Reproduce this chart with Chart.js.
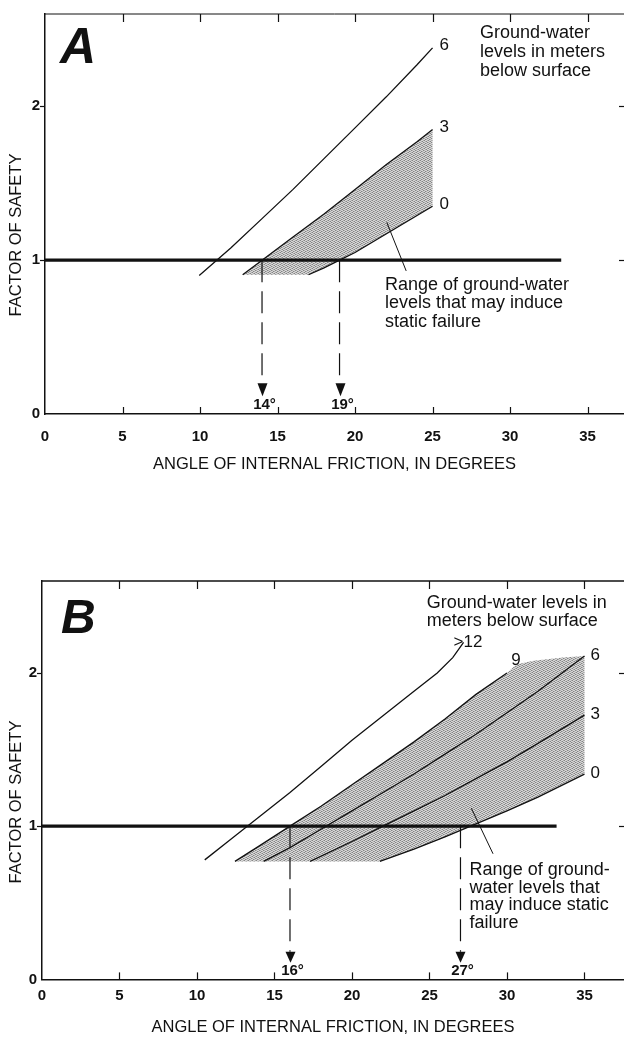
<!DOCTYPE html>
<html>
<head>
<meta charset="utf-8">
<script src="https://cdn.jsdelivr.net/npm/chart.js@4.4.1/dist/chart.umd.min.js"></script>
<style>
  html, body { margin: 0; padding: 0; background: #fff; }
  body { width: 624px; height: 1038px; position: relative; overflow: hidden; }
  canvas { position: absolute; left: 0; }
  #panelA { top: 0; }
  #panelB { top: 500px; }
</style>
</head>
<body>
<canvas id="panelA" width="624" height="480"></canvas>
<canvas id="panelB" width="624" height="538"></canvas>
<script>
// ---- axis ticks shared by both panels ----
const angleTicks = [0, 5, 10, 15, 20, 25, 30, 35];
const safetyTicks = [0, 1, 2];
const safetyLimit = 1;

// ---- Panel A: factor of safety vs. angle of internal friction ----
// ground-water level 6 m below surface
const aDepth6X = [9.95, 12, 14, 16, 18, 20, 22, 24, 25];
const aDepth6Y = [0.90, 1.08, 1.27, 1.46, 1.66, 1.86, 2.06, 2.27, 2.38];
// 3 m below surface
const aDepth3X = [12.75, 14, 16, 18, 20, 22, 24, 25];
const aDepth3Y = [0.905, 1.0, 1.15, 1.30, 1.46, 1.62, 1.77, 1.85];
// water at surface (0 m)
const aDepth0X = [17.0, 18, 19, 20, 22, 24, 25];
const aDepth0Y = [0.905, 0.95, 1.0, 1.05, 1.17, 1.29, 1.35];
const aLimitX = [0, 33.3];
const aCriticalAngles = [14, 19];
const aArrowEnd = 0.2;
const aLeaderX = [23.3, 22.05];
const aLeaderY = [0.93, 1.245];

// ---- Panel B ----
const bDepth12X = [10.5, 12, 14, 16, 18, 20, 22, 24, 25.5, 26.5, 27.2];
const bDepth12Y = [0.78, 0.90, 1.06, 1.22, 1.39, 1.56, 1.72, 1.88, 2.00, 2.10, 2.20];
const bDepth9X = [12.45, 14, 16, 18, 20, 22, 24, 26, 28, 30];
const bDepth9Y = [0.77, 0.87, 1.0, 1.13, 1.27, 1.41, 1.55, 1.70, 1.86, 2.0];
const bDepth6X = [14.3, 16, 18, 20, 22, 24, 26, 28, 30, 32, 35];
const bDepth6Y = [0.77, 0.86, 0.98, 1.10, 1.22, 1.34, 1.47, 1.60, 1.74, 1.88, 2.11];
const bDepth3X = [17.3, 20, 22, 24, 26, 28, 30, 32, 35];
const bDepth3Y = [0.77, 0.90, 1.0, 1.10, 1.20, 1.31, 1.42, 1.54, 1.725];
const bDepth0X = [21.8, 24, 26, 28, 30, 32, 35];
const bDepth0Y = [0.77, 0.85, 0.93, 1.015, 1.10, 1.19, 1.34];
// upper edge of the shaded band beyond the end of the 9 m curve
const bCapX = [30, 30.6, 31.7, 33.6, 35];
const bCapY = [2.0, 2.055, 2.08, 2.10, 2.11];
const bLimitX = [0, 33.2];
const bCriticalAngles = [16, 27];
const bArrowEnd = 0.18;
const bLeaderX = [29.1, 27.7];
const bLeaderY = [0.82, 1.117];

const FONT = "'Liberation Sans', Arial, Helvetica, sans-serif";
const ink = '#111';
Chart.defaults.font.family = FONT;
Chart.defaults.color = ink;

function pts(xs, ys) { return xs.map((x, i) => ({ x, y: ys[i] })); }

// fine dot screen used for the failure band
function stipple() {
  const c = document.createElement('canvas');
  c.width = 4; c.height = 4;
  const g = c.getContext('2d');
  g.fillStyle = '#d6d6d6'; g.fillRect(0, 0, 4, 4);
  g.fillStyle = '#858585';
  [[0, 0], [2, 1], [1, 3], [3, 2]].forEach(([x, y]) => g.fillRect(x, y, 1, 1));
  g.fillStyle = '#ababab';
  [[2, 3], [0, 2], [3, 0], [1, 1]].forEach(([x, y]) => g.fillRect(x, y, 1, 1));
  return g.createPattern(c, 'repeat');
}

function curve(xs, ys, label, dx, dy) {
  return { data: pts(xs, ys), showLine: true, borderColor: ink, borderWidth: 1.3,
           pointRadius: 0, tension: 0, fill: false, curveLabel: label, labelDx: dx, labelDy: dy };
}

const panelDecor = {
  id: 'panelDecor',
  afterDraw(chart, args, o) {
    const { ctx, chartArea: a, scales: { x, y } } = chart;
    const seg = (x1, y1, x2, y2) => { ctx.beginPath(); ctx.moveTo(x1, y1); ctx.lineTo(x2, y2); ctx.stroke(); };
    ctx.save();
    ctx.strokeStyle = ink;
    ctx.lineWidth = o.topWidth;
    seg(a.left, a.top, a.right, a.top);
    ctx.lineWidth = 1.2;
    angleTicks.forEach(v => {
      if (!v) return;
      const px = Math.round(x.getPixelForValue(v)) + 0.5;
      seg(px, a.bottom, px, a.bottom - 7);
      seg(px, a.top, px, a.top + 8);
    });
    safetyTicks.forEach(v => {
      if (!v) return;
      const py = Math.round(y.getPixelForValue(v)) + 0.5;
      seg(a.left - 5, py, a.left, py);
      seg(a.right - 5, py, a.right, py);
    });

    ctx.fillStyle = ink;
    // vertical axis title
    ctx.save();
    ctx.translate(o.yTitleX, o.yTitleY);
    ctx.rotate(-Math.PI / 2);
    ctx.font = `16.5px ${FONT}`;
    ctx.textAlign = 'center';
    ctx.textBaseline = 'middle';
    ctx.fillText('FACTOR OF SAFETY', 0, 0);
    ctx.restore();

    // panel letter
    ctx.textAlign = 'left';
    ctx.textBaseline = 'alphabetic';
    ctx.font = `italic bold ${o.letterSize}px ${FONT}`;
    ctx.fillText(o.letter, o.letterX, o.letterY);

    // notes
    ctx.font = `18px ${FONT}`;
    o.notes.forEach(n => n.lines.forEach((t, i) => ctx.fillText(t, n.x, n.y + i * n.lh)));

    // curve labels, arrowheads and angle labels
    chart.data.datasets.forEach((ds, i) => {
      const meta = chart.getDatasetMeta(i);
      const last = meta.data[meta.data.length - 1];
      if (ds.curveLabel) {
        ctx.font = `17px ${FONT}`;
        ctx.textAlign = 'left';
        ctx.fillText(ds.curveLabel, last.x + ds.labelDx, last.y + ds.labelDy);
      }
      if (ds.arrow) {
        const cx = Math.round(last.x) + 0.5;
        const top = last.y;
        ctx.beginPath();
        ctx.moveTo(cx - 5, top);
        ctx.lineTo(cx + 5, top);
        ctx.lineTo(cx, top + o.headLen);
        ctx.closePath();
        ctx.fill();
        ctx.font = `bold 15px ${FONT}`;
        ctx.textAlign = 'center';
        ctx.fillText(ds.arrowText, cx + 2, top + o.headLen + o.degGap);
      }
    });
    ctx.restore();
  }
};

function makePanel(id, p) {
  const datasets = [];
  datasets.push({ data: pts(p.limitX, p.limitX.map(() => safetyLimit)), showLine: true,
                  borderColor: ink, borderWidth: 3.2, pointRadius: 0, fill: false });
  p.angles.forEach(v => datasets.push({
    data: [{ x: v, y: safetyLimit }, { x: v, y: p.arrowEnd }], showLine: true,
    borderColor: ink, borderWidth: 1.2, borderDash: [22, 9], pointRadius: 0, fill: false,
    arrow: true, arrowText: v + '°'
  }));
  datasets.push({ data: pts(p.leaderX, p.leaderY), showLine: true, borderColor: ink,
                  borderWidth: 1, pointRadius: 0, fill: false });
  p.curves.forEach(c => datasets.push(c));
  datasets.push({ data: p.band, showLine: true, borderWidth: 0, borderColor: 'rgba(0,0,0,0)',
                  backgroundColor: stipple(), fill: 'shape', pointRadius: 0, tension: 0 });

  return new Chart(document.getElementById(id), {
    type: 'scatter',
    data: { datasets },
    options: {
      responsive: false, animation: false, devicePixelRatio: 1, events: [],
      layout: { padding: { top: p.top, left: 0, right: 0, bottom: 0 } },
      plugins: { legend: { display: false }, tooltip: { enabled: false }, panelDecor: p.decor },
      scales: {
        x: {
          type: 'linear', position: 'bottom', min: 0, max: p.xMax,
          afterFit: s => { s.height = p.xAxisH; },
          afterBuildTicks: s => { s.ticks = angleTicks.map(v => ({ value: v })); },
          grid: { display: false, drawTicks: false },
          border: { display: true, color: ink, width: 1.5 },
          ticks: { padding: p.xTickPad, autoSkip: false, maxRotation: 0, color: ink,
                   font: { size: 15, weight: 'bold' }, callback: v => String(v) },
          title: { display: true, text: 'ANGLE OF INTERNAL FRICTION, IN DEGREES', color: ink,
                   font: { size: 16.5 }, padding: { top: 0, bottom: p.xTitlePad } }
        },
        y: {
          type: 'linear', min: 0, max: 2.6,
          afterFit: s => { s.width = p.yAxisW; },
          afterBuildTicks: s => { s.ticks = safetyTicks.map(v => ({ value: v })); },
          grid: { display: false, drawTicks: false },
          border: { display: true, color: ink, width: 1.5 },
          ticks: { padding: 5, color: ink, font: { size: 15, weight: 'bold' }, callback: v => String(v) }
        }
      }
    },
    plugins: [panelDecor]
  });
}

// band A: between the 3 m and 0 m curves, floored at the lowest plotted value
const aBand = pts(aDepth3X, aDepth3Y).concat(pts(aDepth0X, aDepth0Y).reverse());
// band B: between the 9 m curve (and its cap) and the 0 m curve
const bBand = pts(bDepth9X, bDepth9Y).concat(pts(bCapX.slice(1), bCapY.slice(1)))
  .concat(pts(bDepth0X, bDepth0Y).reverse());

makePanel('panelA', {
  top: 9.5, xAxisH: 66, yAxisW: 45, xMax: 37.35, xTickPad: 14, xTitlePad: 6,
  limitX: aLimitX, angles: aCriticalAngles, arrowEnd: aArrowEnd,
  leaderX: aLeaderX, leaderY: aLeaderY, band: aBand,
  curves: [
    curve(aDepth6X, aDepth6Y, '6', 7, 2.5),
    curve(aDepth3X, aDepth3Y, '3', 7, 2.5),
    curve(aDepth0X, aDepth0Y, '0', 7, 2.5)
  ],
  decor: {
    topWidth: 1, yTitleX: 16, yTitleY: 235, headLen: 13, degGap: 13,
    letter: 'A', letterSize: 50, letterX: 60, letterY: 63,
    notes: [
      { x: 480, y: 38.3, lh: 18.7, lines: ['Ground-water', 'levels in meters', 'below surface'] },
      { x: 385, y: 290, lh: 18.3, lines: ['Range of ground-water', 'levels that may induce', 'static failure'] }
    ]
  }
});

makePanel('panelB', {
  top: 81, xAxisH: 58.6, yAxisW: 42, xMax: 37.55, xTickPad: 7.5, xTitlePad: 1,
  limitX: bLimitX, angles: bCriticalAngles, arrowEnd: bArrowEnd,
  leaderX: bLeaderX, leaderY: bLeaderY, band: bBand,
  curves: [
    curve(bDepth12X, bDepth12Y, '>12', -10, 5),
    curve(bDepth9X, bDepth9Y, '9', 4.3, -8),
    curve(bDepth6X, bDepth6Y, '6', 6, 3.5),
    curve(bDepth3X, bDepth3Y, '3', 6, 4),
    curve(bDepth0X, bDepth0Y, '0', 6, 4)
  ],
  decor: {
    topWidth: 1.3, yTitleX: 16, yTitleY: 302, headLen: 11, degGap: 12,
    letter: 'B', letterSize: 48, letterX: 61, letterY: 133,
    notes: [
      { x: 426.7, y: 107.7, lh: 18.3, lines: ['Ground-water levels in', 'meters below surface'] },
      { x: 469.6, y: 375, lh: 17.7, lines: ['Range of ground-', 'water levels that', 'may induce static', 'failure'] }
    ]
  }
});
</script>
</body>
</html>
